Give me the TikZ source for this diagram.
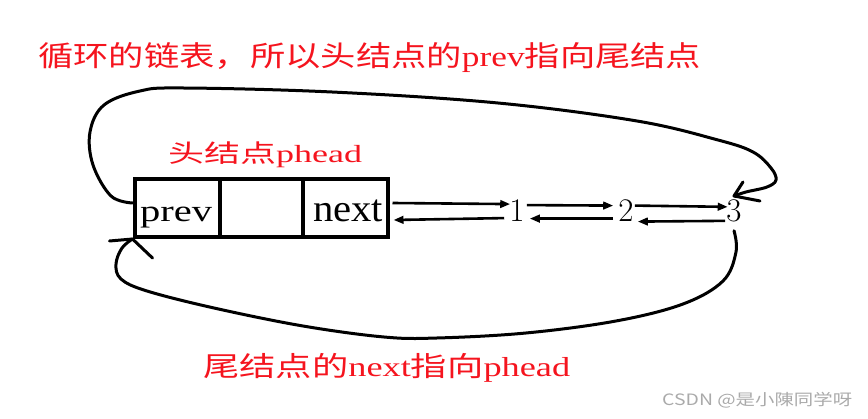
\documentclass[tikz,border=0pt]{standalone}
\usepackage{fontspec}
\usepackage{graphicx}
\newfontfamily\cjk{Noto Sans CJK SC}
\newfontfamily\lserif{Liberation Serif}
\usetikzlibrary{arrows.meta}
\definecolor{txtred}{RGB}{245,20,30}
\definecolor{wmgray}{RGB}{170,170,170}
\tikzset{
  cell/.style={draw=black, line width=4pt, minimum height=58pt, inner sep=0pt},
  lbl/.style={inner sep=0pt, anchor=north west},
  num/.style={inner sep=0pt, anchor=base, font=\fontsize{33}{33}\selectfont},
  arr/.style={line width=2.6pt, -{Triangle[length=10pt,width=7.5pt]}},
  loopline/.style={line width=3pt, line cap=round, line join=round},
  barb/.style={line width=3pt, line cap=round}
}
\begin{document}
\begin{tikzpicture}[x=1pt,y=-1pt]
\useasboundingbox (0,0) rectangle (868,419);
% texts
\node[lbl, text=txtred] (title) at (38,42) {\resizebox*{663pt}{30pt}{\cjk 循环的链表，所以头结点的{\lserif prev}指向尾结点}};
\node[lbl, text=txtred] (headlbl) at (168,142) {\resizebox*{194pt}{26pt}{\cjk 头结点{\lserif phead}}};
\node[lbl, text=txtred] (taillbl) at (203,353) {\resizebox*{367pt}{29pt}{\cjk 尾结点的{\lserif next}指向{\lserif phead}}};
\node[lbl, text=wmgray] (wm) at (662,392) {\resizebox*{190pt}{16pt}{\cjk CSDN @是小陳同学呀}};
% head node
\node[cell, minimum width=85pt] (prevcell) at (177,208) {};
\node[cell, minimum width=83pt] (midcell) at (261,208) {};
\node[cell, minimum width=85pt] (nextcell) at (345,208) {};
\node[lbl] (ptext) at (140,207) {\resizebox*{72pt}{21pt}{\lserif prev}};
\node[lbl] (ntext) at (313,200) {\resizebox*{70pt}{22pt}{\lserif next}};
% list nodes
\node[num] (n1) at (517,222) {1};
\node[num] (n2) at (626,222) {2};
\node[num] (n3) at (734,222) {3};
% arrows
\draw[arr] ([xshift=3pt,yshift=5pt]nextcell.east) -- ([xshift=1pt,yshift=7pt]n1.west);
\draw[arr] ([xshift=-5pt,yshift=-7pt]n1.west) -- ([xshift=4pt,yshift=-12pt]nextcell.east);
\draw[arr] ([xshift=2pt,yshift=6pt]n1.east) -- ([xshift=-5pt,yshift=5.5pt]n2.west);
\draw[arr] ([xshift=-5pt,yshift=-7.5pt]n2.west) -- ([xshift=5pt,yshift=-7.5pt]n1.east);
\draw[arr] ([xshift=1pt,yshift=5.5pt]n2.east) -- ([xshift=1.5pt,yshift=4.5pt]n3.west);
\draw[arr] ([xshift=-1pt,yshift=-9.5pt]n3.west) -- ([xshift=4pt,yshift=-10.5pt]n2.east);
% top loop: prev of head -> tail
\coordinate (toptip) at ([yshift=4pt]n3.north);
\draw[loopline] plot[smooth, tension=0.6] coordinates {([yshift=5pt]prevcell.west) (111,196) (93,165) (90,132) (104,105) (140,91) (183,88) (332,92) (498,103) (637,121) (718,140) (753,152) (771,168) (776,180) (767,187) (746,192) (toptip)};
\draw[barb] (toptip) -- ++(9,-14);
\draw[barb] (toptip) -- ++(26,5);
% bottom loop: next of tail -> head
\coordinate (bottip) at (prevcell.south west);
\draw[loopline] plot[smooth, tension=0.6] coordinates {([yshift=-8pt]n3.south) (736,252) (723,281) (683,304) (616,321) (526,333) (437,338) (384,337) (303,326) (214,308) (147,291) (121,279) (116,264) (122,248) (bottip)};
\draw[barb] (bottip) -- ++(-23,2);
\draw[barb] (bottip) -- ++(20,19);
\end{tikzpicture}
\end{document}
